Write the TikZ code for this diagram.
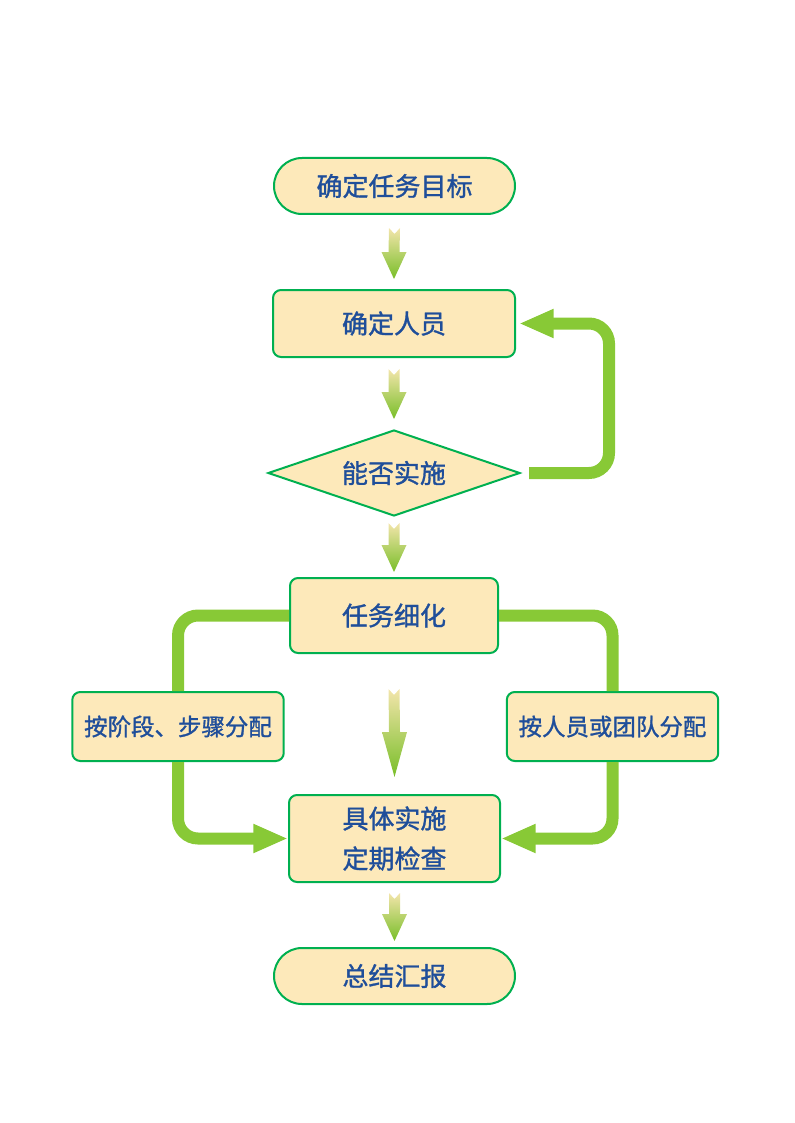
\documentclass[tikz,border=0pt]{standalone}
\usepackage{fontspec}
\usetikzlibrary{shapes.geometric,arrows.meta,calc}
\newfontfamily\cjk[FakeBold=1.2]{Noto Sans CJK SC}

\definecolor{boxfill}{HTML}{FDE9BA}
\definecolor{boxline}{HTML}{00B050}
\definecolor{boxtext}{HTML}{1F4E9A}
\definecolor{flowline}{HTML}{88C936}
\definecolor{arrowtop}{HTML}{F3E5AB}
\definecolor{arrowbot}{HTML}{78BE28}

% shaded arrow with notched tail: from node, gap, to node, gap, head length
\newcommand{\gradarrow}[5]{%
	\shade[top color=arrowtop, bottom color=arrowbot]
		($(#1.south)+(-5.5,#2)$) -- ($(#1.south)+(0,#2+6)$) -- ($(#1.south)+(5.5,#2)$)
		-- ($(#3.north)+(5.5,-#4-#5)$) -- ($(#3.north)+(12.5,-#4-#5)$) -- ($(#3.north)+(0,-#4)$)
		-- ($(#3.north)+(-12.5,-#4-#5)$) -- ($(#3.north)+(-5.5,-#4-#5)$) -- cycle;}

\begin{document}
\begin{tikzpicture}[x=0.75pt, y=-0.75pt,
	box/.style={draw=boxline, fill=boxfill, line width=1.5pt, text=boxtext, inner sep=0pt, align=center,
		font=\cjk\fontsize{19.5}{30}\selectfont},
	pill/.style={box, rounded corners=21pt, minimum width=180.75pt, minimum height=42pt},
	task/.style={box, rounded corners=6pt},
	choice/.style={box, diamond, aspect=2.93, minimum width=189pt, minimum height=64.5pt},
	side/.style={task, minimum width=158.6pt, minimum height=51.75pt,
		font=\cjk\fontsize{17.6}{22}\selectfont},
	flow/.style={draw=flowline, line width=9pt, rounded corners=15pt},
	flowarrow/.style={flow, -{Triangle[length=26pt, width=20pt]}}]
	\useasboundingbox (0,0) rectangle (794,1123);
	
	% MAIN COLUMN
	\path (394.5,186) node[pill] (goal) {确定任务目标};
	\path (394,323.5) node[task, minimum width=181.5pt, minimum height=50.25pt] (staff) {确定人员};
	\path (394,473) node[choice] (decide) {能否实施};
	\path (394,615.5) node[task, minimum width=156pt, minimum height=56.25pt] (detail) {任务细化};
	\path (394.5,838.5) node[task, minimum width=158.25pt, minimum height=65.25pt] (check) {具体实施\\定期检查};
	\path (394.5,976) node[pill] (report) {总结汇报};
	
	% SIDE BOXES
	\path (178,726.5) node[side] (stage) {按阶段、步骤分配};
	\path (612.5,726.5) node[side] (team) {按人员或团队分配};
	
	% DOWN ARROWS
	\gradarrow{goal}{13}{staff}{10}{27}
	\gradarrow{staff}{11}{decide}{10}{27}
	\gradarrow{decide}{6}{detail}{5}{27}
	\gradarrow{detail}{35}{check}{17}{45}
	\gradarrow{check}{10}{report}{6}{27}
	
	% LOOP BACK
	\draw[flowarrow] ($(decide.east)+(8,0)$) -- ++(80,0) |- ($(staff.east)+(3,0)$);
	
	% SPLIT
	\draw[flow] (detail.west) -| (stage.north);
	\draw[flow] (detail.east) -| (team.north);
	\draw[flowarrow] (stage.south) |- (check.west);
	\draw[flowarrow] (team.south) |- (check.east);
\end{tikzpicture}
\end{document}
